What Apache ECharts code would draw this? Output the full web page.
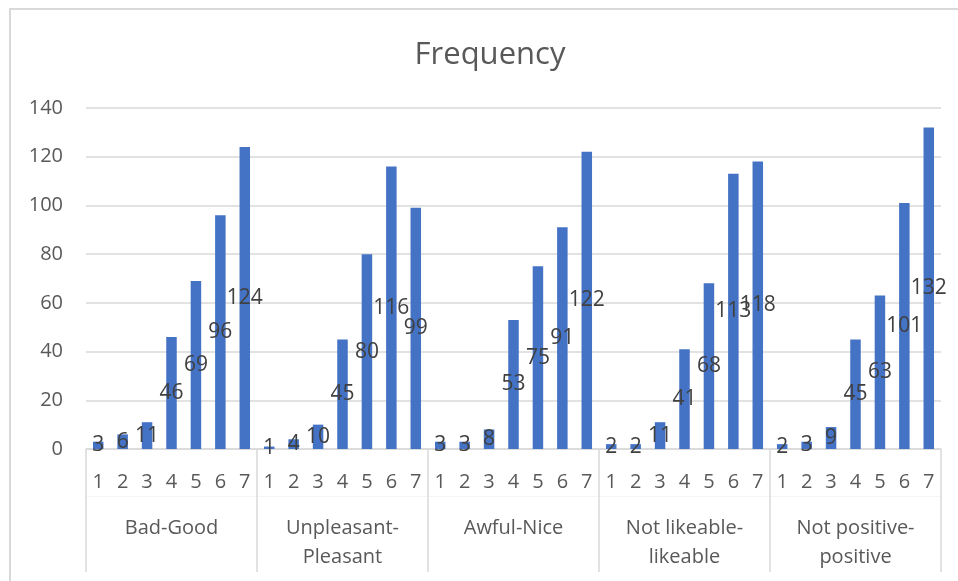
<!DOCTYPE html>
<html>
<head>
<meta charset="utf-8">
<title>Frequency</title>
<script src="https://cdn.jsdelivr.net/npm/echarts@6/dist/echarts.min.js"></script>
<style>
  html, body { margin: 0; padding: 0; background: #ffffff; }
  #chart { width: 958px; height: 581px; }
</style>
</head>
<body>
<div id="chart"></div>
<script>
// Rating scale groups and their 1–7 response points
const groups = ['Bad-Good', 'Unpleasant-Pleasant', 'Awful-Nice', 'Not likeable-likeable', 'Not positive-positive'];
const scalePoints = ['1', '2', '3', '4', '5', '6', '7'];

// Response counts for each group, points 1..7
const badGood = [3, 6, 11, 46, 69, 96, 124];
const unpleasantPleasant = [1, 4, 10, 45, 80, 116, 99];
const awfulNice = [3, 3, 8, 53, 75, 91, 122];
const likeable = [2, 2, 11, 41, 68, 113, 118];
const positive = [2, 3, 9, 45, 63, 101, 132];

// Value axis ticks
const yTicks = [0, 20, 40, 60, 80, 100, 120, 140];

const groupValues = [badGood, unpleasantPleasant, awfulNice, likeable, positive];

// One category per (group, point) pair; the key keeps duplicates apart
const categories = [];
const values = [];
groupValues.forEach((vals, gi) => {
  vals.forEach((v, pi) => {
    categories.push(gi + '#' + scalePoints[pi]);
    values.push(v);
  });
});

const FONT = 'Open Sans';
const GRID_LINE = '#d9d9d9';
const TEXT = '#595959';

// Long group names wrap after the hyphen
function wrapGroup(name) {
  if (name.length > 12) {
    const i = name.indexOf('-');
    return name.slice(0, i + 1) + '\n' + name.slice(i + 1);
  }
  return name;
}

const chart = echarts.init(document.getElementById('chart'), null, { renderer: 'canvas' });

chart.setOption({
  animation: false,
  backgroundColor: '#ffffff',
  grid: { left: 86, right: 17, top: 108, bottom: 132, containLabel: false },
  graphic: [
    {
      type: 'rect',
      shape: { x: 10, y: 9, width: 1200, height: 1200 },
      style: { fill: 'none', stroke: GRID_LINE, lineWidth: 2 },
      silent: true,
      z: -1
    },
    {
      type: 'text',
      style: {
        text: 'Frequency',
        x: 490,
        y: 55,
        textAlign: 'center',
        textVerticalAlign: 'middle',
        fontFamily: FONT,
        fontSize: 31,
        fill: TEXT
      },
      silent: true
    }
  ],
  xAxis: [
    {
      type: 'category',
      data: categories,
      boundaryGap: true,
      axisLine: { show: true, lineStyle: { color: GRID_LINE, width: 1.5 } },
      axisTick: { show: false },
      axisLabel: {
        interval: 0,
        margin: 21,
        fontFamily: FONT,
        fontSize: 20,
        lineHeight: 24,
        color: TEXT,
        formatter: (v) => v.split('#')[1]
      },
      splitLine: { show: false }
    },
    {
      type: 'category',
      data: groups,
      position: 'bottom',
      boundaryGap: true,
      axisLine: { show: false },
      axisTick: { show: true, interval: 0, length: 123, lineStyle: { color: GRID_LINE, width: 1.5 } },
      axisLabel: {
        interval: 0,
        margin: 65,
        fontFamily: FONT,
        fontSize: 20,
        lineHeight: 29,
        color: TEXT,
        align: 'center',
        formatter: wrapGroup
      },
      splitLine: { show: false }
    },
    {
      type: 'category',
      data: groups,
      position: 'bottom',
      offset: 47,
      axisLine: { show: true, lineStyle: { color: '#f4f4f4', width: 1 } },
      axisTick: { show: false },
      axisLabel: { show: false },
      splitLine: { show: false }
    }
  ],
  yAxis: {
    type: 'value',
    min: yTicks[0],
    max: yTicks[yTicks.length - 1],
    interval: yTicks[1] - yTicks[0],
    axisLine: { show: false },
    axisTick: { show: false },
    axisLabel: { margin: 23, fontFamily: FONT, fontSize: 20, color: TEXT },
    splitLine: { show: true, lineStyle: { color: GRID_LINE, width: 1.5 } }
  },
  series: [
    {
      type: 'bar',
      xAxisIndex: 0,
      data: values,
      barWidth: '43%',
      itemStyle: { color: '#4472c4' },
      label: {
        show: true,
        position: 'inside',
        fontFamily: FONT,
        fontSize: 21,
        color: '#404040'
      },
      labelLayout: { hideOverlap: false }
    }
  ]
});
</script>
</body>
</html>
